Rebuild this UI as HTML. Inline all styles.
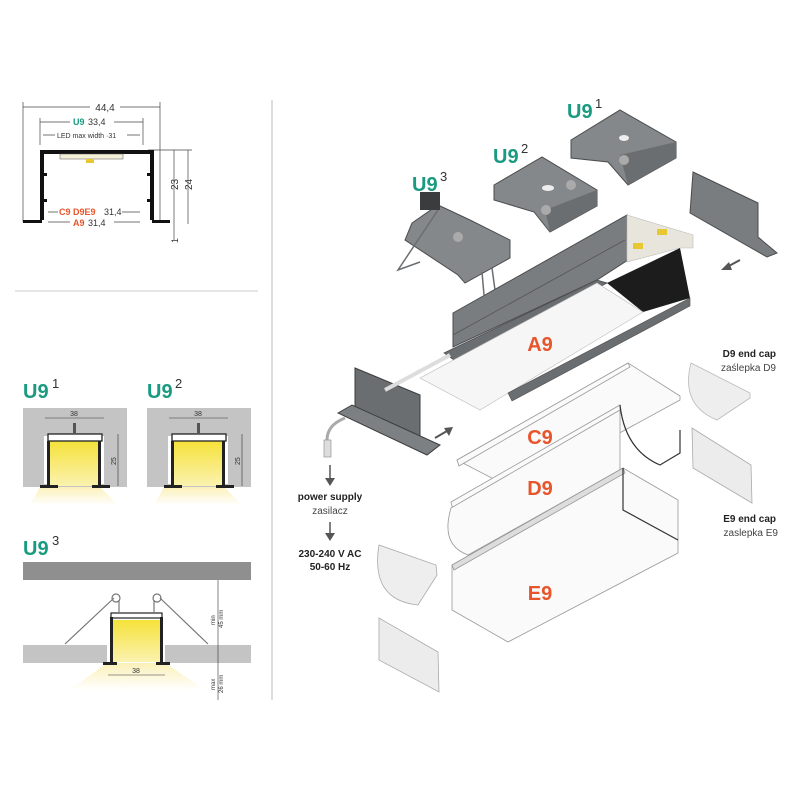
<!DOCTYPE html>
<html><head><meta charset="utf-8"><style>
html,body{margin:0;padding:0;background:#fff}
svg{display:block}
text{font-family:"Liberation Sans",sans-serif}
.t{fill:#1a9a80;font-weight:bold}
.o{fill:#e8542b;font-weight:bold}
.k{fill:#333}
</style></head><body>
<svg width="800" height="800" viewBox="0 0 800 800" xmlns="http://www.w3.org/2000/svg">
<rect width="800" height="800" fill="#fff"/>
<line x1="272" y1="100" x2="272" y2="700" stroke="#bbb" stroke-width="1"/>
<line x1="15" y1="291" x2="258" y2="291" stroke="#ccc" stroke-width="1"/>

<!-- top-left cross-section -->
<g stroke="#444" stroke-width="0.7" fill="none">
<line x1="23" y1="107" x2="160" y2="107"/><line x1="23" y1="102" x2="23" y2="222"/><line x1="160" y1="102" x2="160" y2="222"/>
<line x1="40" y1="122" x2="143" y2="122"/><line x1="40" y1="118" x2="40" y2="145"/><line x1="143" y1="118" x2="143" y2="145"/>
<line x1="43" y1="135" x2="140" y2="135"/>
<line x1="148" y1="150" x2="192" y2="150"/>
<line x1="174" y1="150" x2="174" y2="222"/><line x1="188" y1="150" x2="188" y2="224"/>
<line x1="174" y1="222" x2="174" y2="240"/>
<line x1="48" y1="212" x2="140" y2="212"/><line x1="48" y1="222" x2="140" y2="222"/>
</g>
<rect x="90" y="103" width="30" height="8" fill="#fff"/>
<text x="105" y="111" font-size="10" text-anchor="middle" class="k">44,4</text>
<rect x="70" y="117" width="44" height="9" fill="#fff"/>
<text x="73" y="125" font-size="9" class="t">U9</text><text x="88" y="125" font-size="9" class="k">33,4</text>
<rect x="55" y="130" width="72" height="9" fill="#fff"/>
<text x="57" y="138" font-size="7" class="k">LED max width ·31</text>
<g fill="#111">
<rect x="40" y="150" width="114" height="4"/>
<rect x="40" y="150" width="4" height="70"/><rect x="150" y="150" width="4" height="70"/>
<rect x="23" y="220" width="19" height="3"/><rect x="152" y="220" width="18" height="3"/>
<rect x="44" y="173" width="3" height="3"/><rect x="147" y="173" width="3" height="3"/>
<rect x="44" y="199" width="3" height="3"/><rect x="147" y="199" width="3" height="3"/>
</g>
<rect x="60" y="154" width="63" height="5" fill="#f4f0d8" stroke="#555" stroke-width="0.5"/>
<rect x="86" y="159" width="8" height="4" fill="#e8c830"/>
<rect x="58" y="208" width="64" height="8" fill="#fff"/>
<text x="59" y="215" font-size="9" class="o">C9 D9E9</text><text x="104" y="215" font-size="9" class="k">31,4</text>
<rect x="70" y="218" width="44" height="9" fill="#fff"/>
<text x="73" y="226" font-size="9" class="o">A9</text><text x="88" y="226" font-size="9" class="k">31,4</text>
<text x="178" y="190" font-size="10" class="k" transform="rotate(-90 178 190)">23</text>
<text x="192" y="190" font-size="10" class="k" transform="rotate(-90 192 190)">24</text>
<text x="178" y="243" font-size="9" class="k" transform="rotate(-90 178 243)">1</text>

<defs>
<linearGradient id="ly" x1="0" y1="0" x2="0" y2="1"><stop offset="0" stop-color="#f5e23a"/><stop offset="1" stop-color="#fbf2b0"/></linearGradient>
<linearGradient id="cone" x1="0" y1="0" x2="0" y2="1"><stop offset="0" stop-color="#fbf0b8"/><stop offset="1" stop-color="#fff"/></linearGradient>
</defs>
<text x="23" y="398" font-size="20" class="t">U9</text><text x="52" y="388" font-size="13" class="k">1</text>
<text x="147" y="398" font-size="20" class="t">U9</text><text x="175" y="388" font-size="13" class="k">2</text>
<g id="u1">
<rect x="23" y="408" width="104" height="79" fill="#c4c4c4"/>
<polygon points="40,487 100,487 118,505 30,505" fill="url(#cone)"/>
<rect x="44" y="436" width="60" height="48" fill="#fff"/>
<rect x="49" y="441" width="50" height="45" fill="url(#ly)"/>
<rect x="48" y="434" width="54" height="7" fill="#fff" stroke="#222" stroke-width="1.3"/>
<rect x="47" y="441" width="3" height="45" fill="#222"/><rect x="98" y="441" width="3" height="45" fill="#222"/>
<rect x="40" y="485" width="18" height="3" fill="#222"/><rect x="92" y="485" width="18" height="3" fill="#222"/>
<rect x="73" y="423" width="3" height="11" fill="#555"/>
<line x1="45" y1="418" x2="104" y2="418" stroke="#333" stroke-width="0.6"/>
<line x1="118" y1="434" x2="118" y2="486" stroke="#333" stroke-width="0.6"/>
<text x="74" y="416" font-size="7" text-anchor="middle" class="k">38</text>
<text x="116" y="465" font-size="7" class="k" transform="rotate(-90 116 465)">25</text>
</g>
<use href="#u1" x="124"/>

<text x="23" y="555" font-size="20" class="t">U9</text><text x="52" y="545" font-size="13" class="k">3</text>
<rect x="23" y="562" width="228" height="18" fill="#8f8f8f"/>
<rect x="23" y="645" width="228" height="18" fill="#c4c4c4"/>
<polygon points="107,663 165,663 205,690 70,690" fill="url(#cone)"/>
<rect x="107" y="616" width="58" height="47" fill="#fff"/>
<rect x="113" y="620" width="47" height="42" fill="url(#ly)"/>
<rect x="111" y="613" width="51" height="5" fill="#fff" stroke="#222" stroke-width="1.2"/>
<rect x="110" y="617" width="3" height="46" fill="#222"/><rect x="160" y="617" width="3" height="46" fill="#222"/>
<rect x="103" y="662" width="14" height="3" fill="#222"/><rect x="156" y="662" width="14" height="3" fill="#222"/>
<g stroke="#777" stroke-width="1.2" fill="none">
<line x1="114" y1="598" x2="65" y2="644"/><line x1="160" y1="598" x2="208" y2="644"/>
<circle cx="116" cy="598" r="4"/><circle cx="157" cy="598" r="4"/>
<line x1="119" y1="600" x2="119" y2="613"/><line x1="154" y1="600" x2="154" y2="613"/>
</g>
<g stroke="#333" stroke-width="0.6">
<line x1="218" y1="580" x2="218" y2="700"/><line x1="108" y1="675" x2="165" y2="675"/>
</g>
<text x="136" y="673" font-size="7" text-anchor="middle" class="k">38</text>
<text x="215" y="625" font-size="6" class="k" transform="rotate(-90 215 625)">min</text>
<text x="223" y="628" font-size="6" class="k" transform="rotate(-90 223 628)">45 mm</text>
<text x="215" y="690" font-size="6" class="k" transform="rotate(-90 215 690)">max</text>
<text x="223" y="693" font-size="6" class="k" transform="rotate(-90 223 693)">26 mm</text>

<!-- accessories -->
<text x="567" y="118" font-size="20" class="t">U9</text><text x="595" y="108" font-size="13" class="k">1</text>
<text x="493" y="163" font-size="20" class="t">U9</text><text x="521" y="153" font-size="13" class="k">2</text>
<text x="412" y="191" font-size="20" class="t">U9</text><text x="440" y="181" font-size="13" class="k">3</text>
<polygon points="571,140 620,110 676,142 676,158 628,185 608,162 571,158" fill="#85888a" stroke="#4a4c4d" stroke-width="1"/>
<polygon points="620,155 628,185 676,158 676,142" fill="#6b6e70"/>
<ellipse cx="624" cy="138" rx="5" ry="3" fill="#eee"/>
<circle cx="624" cy="160" r="5" fill="#aaa"/>
<polygon points="494,185 542,157 597,190 597,206 550,232 534,212 494,200" fill="#85888a" stroke="#4a4c4d" stroke-width="1"/>
<polygon points="545,210 550,232 597,206 597,190" fill="#6b6e70"/>
<ellipse cx="548" cy="188" rx="6" ry="3" fill="#eee"/>
<circle cx="546" cy="210" r="5" fill="#aaa"/><circle cx="571" cy="185" r="5" fill="#aaa"/>
<polygon points="412,223 438,205 470,220 510,240 510,258 465,283 458,275 405,240" fill="#85888a" stroke="#4a4c4d" stroke-width="1"/>
<rect x="420" y="192" width="20" height="18" fill="#3a3c3d"/>
<circle cx="458" cy="237" r="5" fill="#aaa"/>
<g stroke="#6b6e70" stroke-width="1.5" fill="none"><polyline points="438,210 398,270 420,262"/><line x1="482" y1="272" x2="484" y2="295"/><line x1="492" y1="268" x2="495" y2="290"/></g>
<polygon points="693,172 758,203 758,237 777,253 767,257 690,213" fill="#7a7d7f" stroke="#4a4c4d" stroke-width="1"/>
<line x1="740" y1="260" x2="727" y2="267" stroke="#555" stroke-width="2"/><polygon points="721,270 729,262 732,270" fill="#555"/>

<!-- A9 profile -->
<polygon points="453,313 627,215 628,260 597,280 453,347" fill="#7a7d7f" stroke="#4a4c4d" stroke-width="1"/>
<line x1="453" y1="335" x2="625" y2="240" stroke="#555" stroke-width="0.8"/>
<polygon points="444,353 597,280 607,283 457,362" fill="#6b6e70" stroke="#4a4c4d" stroke-width="0.8"/>
<polygon points="627,215 693,235 693,248 680,248 627,262" fill="#e8e6dc" stroke="#bbb" stroke-width="0.6"/>
<rect x="633" y="243" width="10" height="6" fill="#e8c830"/><rect x="657" y="229" width="10" height="6" fill="#e8c830"/>
<polygon points="607,283 680,248 690,298 643,312" fill="#1c1c1c"/>
<polygon points="420,378 597,283 643,312 480,410" fill="#f6f6f6" stroke="#bbb" stroke-width="0.6"/>
<polygon points="508,393 690,298 690,306 512,401" fill="#6b6e70" stroke="#4a4c4d" stroke-width="0.6"/>
<text x="540" y="351" font-size="20" class="o" text-anchor="middle">A9</text>
<!-- end feed -->
<polygon points="355,368 420,395 420,440 355,410" fill="#6b6e70" stroke="#3a3c3d" stroke-width="1"/>
<polygon points="338,413 352,405 440,445 427,455" fill="#7d8082" stroke="#3a3c3d" stroke-width="1"/>
<line x1="385" y1="390" x2="450" y2="355" stroke="#ddd" stroke-width="4"/>
<path d="M345,418 Q327,425 327,440 L327,457" stroke="#aaa" stroke-width="3" fill="none"/>
<rect x="324" y="440" width="7" height="17" fill="#ddd" stroke="#888" stroke-width="0.6"/>
<line x1="435" y1="438" x2="447" y2="431" stroke="#555" stroke-width="2"/><polygon points="453,427 444,428 449,436" fill="#555"/>
<line x1="330" y1="465" x2="330" y2="480" stroke="#555" stroke-width="1.5"/><polygon points="325,478 335,478 330,486" fill="#555"/>
<text x="330" y="500" font-size="10" text-anchor="middle" fill="#222" font-weight="bold">power supply</text>
<text x="330" y="514" font-size="10" text-anchor="middle" fill="#444">zasilacz</text>
<line x1="330" y1="522" x2="330" y2="535" stroke="#555" stroke-width="1.5"/><polygon points="325,533 335,533 330,541" fill="#555"/>
<text x="330" y="557" font-size="10" text-anchor="middle" fill="#222" font-weight="bold">230-240 V AC</text>
<text x="330" y="570" font-size="10" text-anchor="middle" fill="#222" font-weight="bold">50-60 Hz</text>

<g stroke="#999" stroke-width="0.8" fill="#fafafa">
<polygon points="457,460 628,363 680,396 680,400 515,490"/>
<polygon points="457,460 628,363 630,367 459,466"/>
<polygon points="451,502 620,405 620,415 453,510"/>
<path d="M451,508 Q440,545 468,555 L620,470 L620,410 Z"/>
<path d="M620,405 Q625,450 660,465 L680,453 L680,430" fill="none" stroke="#333" stroke-width="1.2"/>
<polygon points="452,565 623,468 678,500 678,553 508,642 452,610"/>
<polygon points="452,565 623,468 625,473 454,570" fill="#ddd"/>
<polyline points="623,468 623,510 678,540" fill="none" stroke="#333" stroke-width="1.2"/>
</g>
<text x="540" y="444" font-size="20" class="o" text-anchor="middle">C9</text>
<text x="540" y="495" font-size="20" class="o" text-anchor="middle">D9</text>
<text x="540" y="600" font-size="20" class="o" text-anchor="middle">E9</text>

<path d="M691,363 Q680,405 717,420 L750,398 L750,393 Z" fill="#eee" stroke="#bbb" stroke-width="0.8"/>
<polygon points="692,428 751,465 752,503 693,468" fill="#ececec" stroke="#aaa" stroke-width="0.8"/>
<path d="M379,545 Q370,600 418,605 L437,575 L436,565 Z" fill="#eee" stroke="#aaa" stroke-width="0.8"/>
<polygon points="379,618 438,652 439,692 379,660" fill="#ececec" stroke="#aaa" stroke-width="0.8"/>
<text x="776" y="357" font-size="10" text-anchor="end" fill="#222" font-weight="bold">D9 end cap</text>
<text x="776" y="371" font-size="10" text-anchor="end" fill="#444">zaślepka D9</text>
<text x="776" y="522" font-size="10" text-anchor="end" fill="#222" font-weight="bold">E9 end cap</text>
<text x="778" y="536" font-size="10" text-anchor="end" fill="#444">zaslepka E9</text>
</svg>
</body></html>
